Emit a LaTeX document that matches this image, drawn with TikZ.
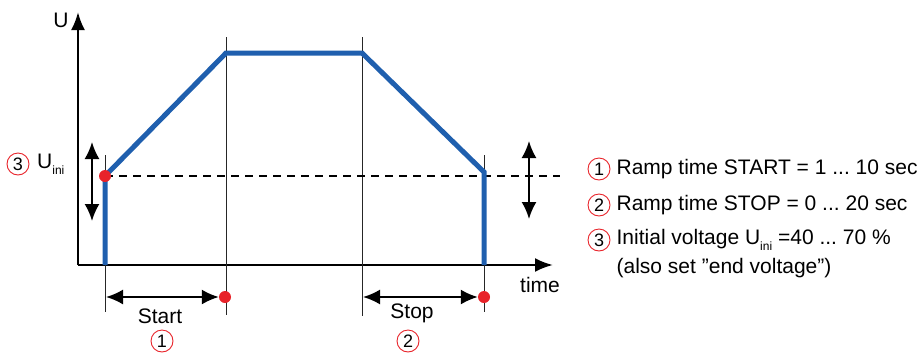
\documentclass[tikz,border=0pt]{standalone}
\usepackage{fontspec}
\setmainfont{Liberation Sans}
\usetikzlibrary{arrows.meta,positioning}
\definecolor{RampBlue}{HTML}{1F5FAE}
\definecolor{DotRed}{HTML}{E8232A}
\tikzset{
  num/.style={circle, draw=DotRed, line width=0.9pt, inner sep=0pt, minimum size=22pt, font=\fontsize{18}{18}\selectfont},
  dot/.style={circle, fill=DotRed, inner sep=0pt, minimum size=12pt},
  guide/.style={line width=1pt, black!85},
  dim/.style={{Latex[length=17pt,width=15pt]}-{Latex[length=17pt,width=15pt]}, line width=2pt},
  txt/.style={font=\fontsize{21}{25}\selectfont, inner sep=0pt},
  ramp/.style={line width=5pt, color=RampBlue}
}
\newcommand{\subini}{\raisebox{-6pt}{\fontsize{12}{12}\selectfont ini}}
\frenchspacing

\begin{document}
\begin{tikzpicture}[x=1pt,y=-1pt,>=Latex]
    \useasboundingbox (0,0) rectangle (923,354);
    % axes
    \coordinate (o) at (78,265);
    \coordinate (ytip) at (78,12);
    \coordinate (xtip) at (553,265);
    \draw[line width=2.5pt, -{Latex[length=18pt,width=14pt]}] (o) -- (ytip);
    \draw[line width=2.5pt, -{Latex[length=18pt,width=14pt]}] (o) -- (xtip);
    \node[txt] (ulab) at (61,20) {U};
    \node[txt] (tlab) at (540,285) {time};
    % guide lines
    \coordinate (g1t) at (105,155); \coordinate (g1b) at (105,312);
    \coordinate (g2t) at (226,37);  \coordinate (g2b) at (226,315);
    \coordinate (g3t) at (362,37);  \coordinate (g3b) at (362,316);
    \coordinate (g4t) at (484,155); \coordinate (g4b) at (484,312);
    \draw[guide] (g1t) -- (g1b);
    \draw[guide] (g2t) -- (g2b);
    \draw[guide] (g3t) -- (g3b);
    \draw[guide] (g4t) -- (g4b);
    % ramp
    \coordinate (s0) at (105,265);
    \coordinate (s1) at (105,176);
    \coordinate (top1) at (226,53);
    \coordinate (top2) at (362,53);
    \coordinate (e1) at (484,172);
    \coordinate (e0) at (484,265);
    \coordinate (dend) at (560,176);
    \draw[line width=2pt, dash pattern=on 8pt off 6pt] (s1) -- (dend);
    \draw[ramp] (s0) -- (s1) -- (top1) -- (top2) -- (e1) -- (e0);
    \node[dot] (ini) at (s1) {};
    % level arrows
    \coordinate (la) at (92,142); \coordinate (lb) at (92,221);
    \coordinate (ra) at (529,141); \coordinate (rb) at (529,219);
    \draw[dim] (la) -- (lb);
    \draw[dim] (ra) -- (rb);
    % time spans
    \coordinate (sa) at (106,297);
    \node[dot] (sdot) at (225,297) {};
    \coordinate (pa) at (363,297);
    \node[dot] (pdot) at (484,297) {};
    \draw[dim] (sa) -- (sdot.west);
    \draw[dim] (pa) -- (pdot.west);
    \node[txt] (start) at (160,316) {Start};
    \node[txt] (stop) at (412,313) {Stop};
    \node[num] (n1) at (162,341) {1};
    \node[num] (n2) at (408,341) {2};
    % initial voltage
    \node[num] (n3) at (18,164) {3};
    \node[txt, anchor=west] (uini) at (37,164) {U\subini};
    % legend
    \node[num] (k1) at (599,169) {1};
    \node[num] (k2) at (599,205) {2};
    \node[num] (k3) at (599,240) {3};
    \node[txt, anchor=west, right=6pt of k1] (l1) {Ramp time START = 1 ... 10 sec};
    \node[txt, anchor=west, right=6pt of k2] (l2) {Ramp time STOP = 0 ... 20 sec};
    \node[txt, anchor=west, right=6pt of k3] (l3) {Initial voltage U\subini\ =40 ... 70 \%};
    \node[txt, anchor=west] (l4) at (l3.west |- 0,268) {(also set ”end voltage”)};
\end{tikzpicture}
\end{document}
